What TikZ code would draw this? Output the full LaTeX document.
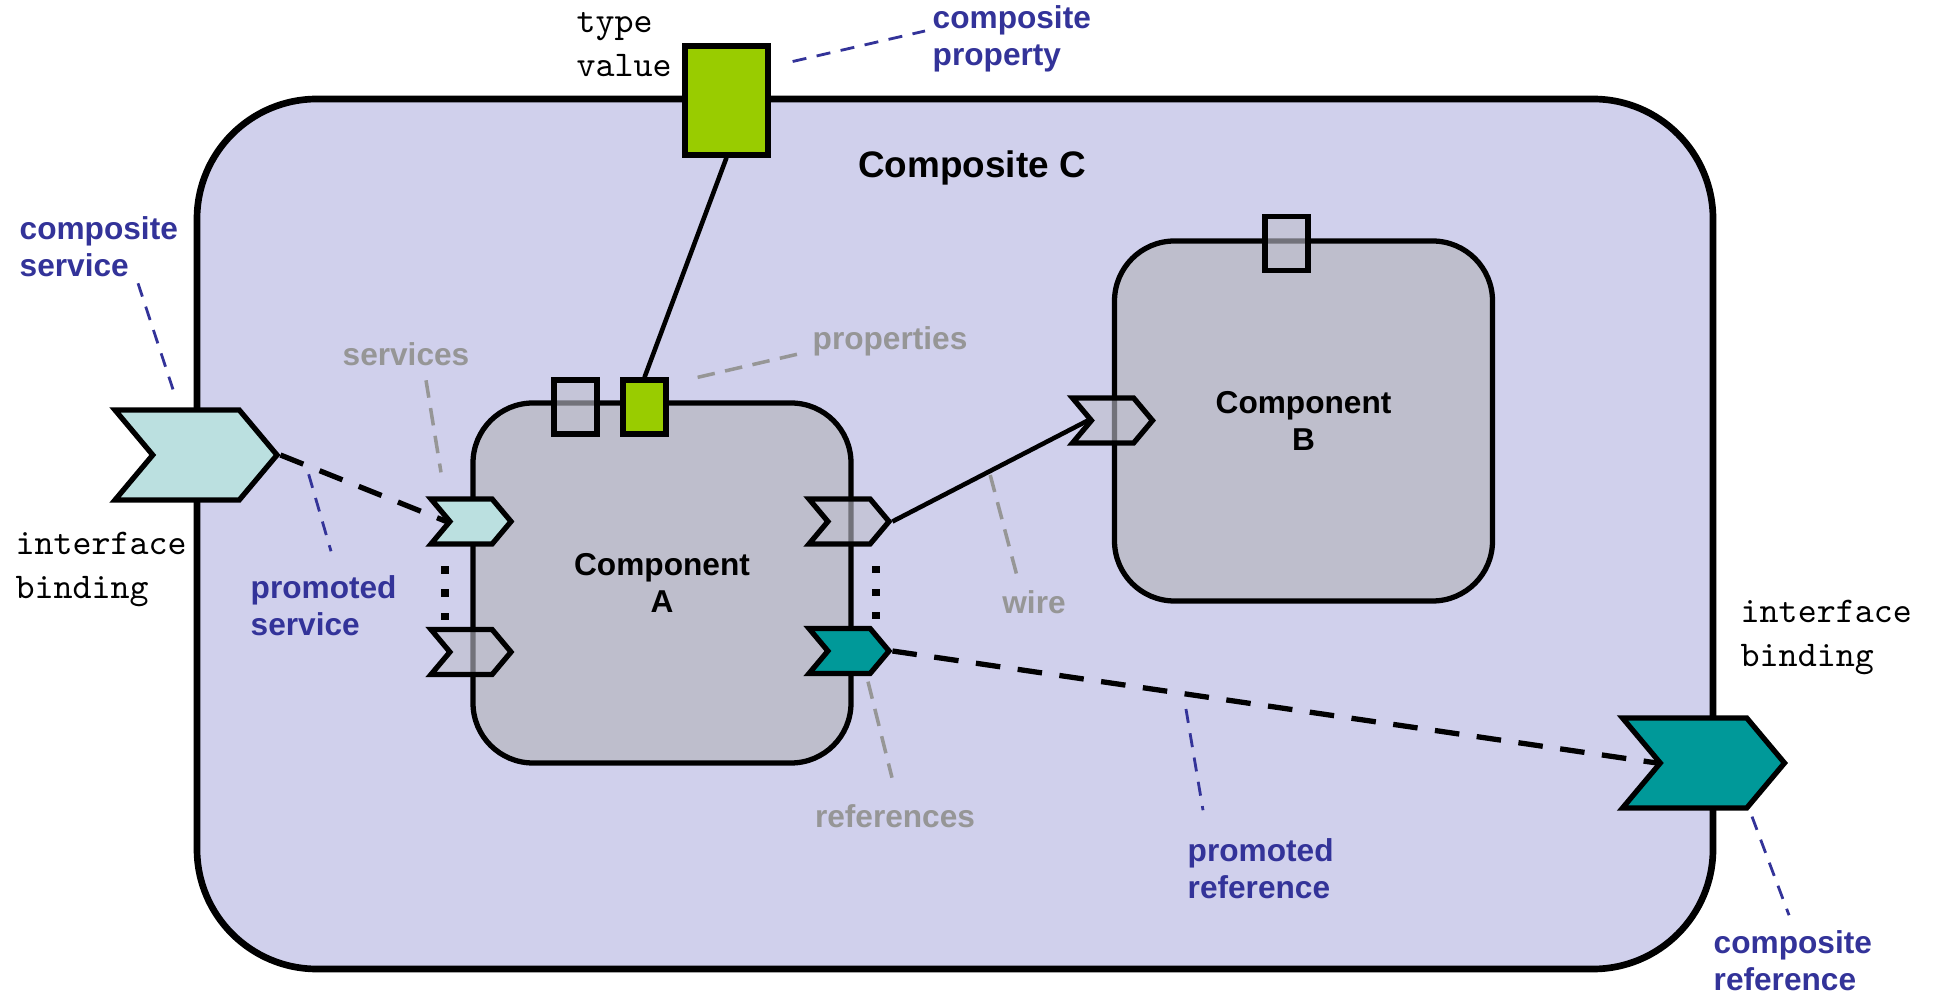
\documentclass[tikz,border=0pt]{standalone}
\usepackage{fontspec}
\setmainfont{Liberation Sans}
\usepackage{tikz}
\usetikzlibrary{positioning, calc, shapes.symbols}
\definecolor{compositeFill}{RGB}{208, 208, 236}
\definecolor{componentFill}{RGB}{190, 190, 204}
\definecolor{serviceFill}{RGB}{187, 224, 224}
\definecolor{refFill}{RGB}{0, 153, 153}
\definecolor{propFill}{RGB}{153, 204, 0}
\definecolor{labelBlue}{RGB}{51, 51, 153}
\definecolor{labelGrey}{RGB}{150, 150, 150}

\tikzset{
    composite/.style={draw, line width=1.9pt, fill=compositeFill, rounded corners=1.2cm,
        minimum width=15.16cm, minimum height=8.7cm},
    component/.style={draw, line width=1.5pt, fill=componentFill, rounded corners=0.6cm,
        minimum width=3.78cm, minimum height=3.6cm, align=center,
        font=\bfseries\fontsize{9}{10.5}\selectfont},
    chevron/.style={signal, signal to=east, signal from=west, signal pointer angle=100,
        draw, line width=1.5pt, inner sep=0pt, minimum width=0.8cm, minimum height=0.45cm},
    bigchevron/.style={chevron, minimum width=1.62cm, minimum height=0.9cm},
    propbox/.style={draw, line width=1.5pt, inner sep=0pt, minimum width=0.43cm, minimum height=0.54cm},
    promote/.style={line width=1.5pt, dash pattern=on 7pt off 5pt},
    wire/.style={line width=1.3pt},
    blueLbl/.style={text=labelBlue, align=left, inner sep=0pt, font=\bfseries\fontsize{9}{10.5}\selectfont},
    greyLbl/.style={text=labelGrey, inner sep=0pt, font=\bfseries\fontsize{9}{10.5}\selectfont},
    monoLbl/.style={align=left, inner sep=0pt, font=\ttfamily\fontsize{10.3}{12.7}\selectfont},
    blueLead/.style={labelBlue, line width=0.8pt, dash pattern=on 4pt off 3pt},
    greyLead/.style={labelGrey, line width=1pt, dash pattern=on 5pt off 3pt}
}

\begin{document}
\begin{tikzpicture}
    \useasboundingbox (0,0) rectangle (19.35,9.96);

    \node[composite] (compC) at (9.55,4.62) {};
    \node[font=\bfseries\fontsize{10.5}{12}\selectfont] (lblC) at (9.72,8.28) {Composite C};

    \node[component] (compA) at (6.62,4.13) {Component\\A};
    \node[component] (compB) at (13.035,5.75) {Component\\B};

    \foreach \nm/\x/\y/\col/\op in {
        svcA1/4.71/4.745/serviceFill/1,
        svcA2/4.71/3.44/componentFill/0.6,
        refA1/8.49/4.745/componentFill/0.6,
        refA2/8.49/3.45/refFill/1,
        svcB/11.125/5.755/componentFill/0.6}
    {
        \node[chevron, fill=\col, fill opacity=\op] (\nm) at (\x,\y) {};
    }
    \node[bigchevron, fill=serviceFill] (svcC) at (1.96,5.41) {};
    \node[bigchevron, fill=refFill] (refC) at (17.035,2.33) {};

    \node[propbox, fill=componentFill, fill opacity=0.6] (propA1) at (5.755,5.89) {};
    \node[propbox, fill=propFill] (propA2) at (6.445,5.89) {};
    \node[propbox, fill=componentFill, fill opacity=0.6] (propB) at (12.865,7.525) {};
    \node[propbox, fill=propFill, minimum width=0.83cm, minimum height=1.09cm] (propC) at (7.265,8.955) {};

    \draw[wire] (propC.south) -- (propA2.north);
    \draw[wire] (refA1.east) -- coordinate[pos=0.5] (wirePt) (svcB.west);
    \draw[promote] (svcC.east) -- coordinate[pos=0.17] (psvPt) (svcA1.west);
    \draw[promote] (refA2.east) -- coordinate[pos=0.384] (prfPt) (refC.west);

    \foreach \a/\b/\dx in {svcA1/svcA2/-0.26, refA1/refA2/0.27}
        \foreach \t in {0.29, 0.58, 0.87}
            \fill ($(\a.south)!\t!(\b.north)+(\dx,0)$) +(-1.1pt,-1.1pt) rectangle +(1.1pt,1.1pt);

    \node[monoLbl, anchor=west] (lblTV) at (5.76,9.515) {type\\value};
    \node[blueLbl, anchor=west] (lblCP) at (9.32,9.57) {composite\\property};
    \node[blueLbl, anchor=west] (lblCS) at (0.19,7.495) {composite\\service};
    \node[monoLbl, anchor=west] (lblIB1) at (0.15,4.265) {interface\\binding};
    \node[blueLbl, anchor=west] (lblPS) at (2.50,3.905) {promoted\\service};
    \node[greyLbl] (lblSv) at (4.06,6.42) {services};
    \node[greyLbl] (lblPr) at (8.90,6.55) {properties};
    \node[greyLbl] (lblWi) at (10.34,3.94) {wire};
    \node[greyLbl] (lblRf) at (8.95,1.80) {references};
    \node[blueLbl, anchor=west] (lblPR) at (11.87,1.275) {promoted\\reference};
    \node[monoLbl, anchor=west] (lblIB2) at (17.40,3.585) {interface\\binding};
    \node[blueLbl, anchor=west] (lblCR) at (17.13,0.35) {composite\\reference};

    \draw[blueLead] ([shift={(0.22,0.39)}]propC.east) -- ([shift={(-0.07,0.08)}]lblCP.west);
    \draw[blueLead] ([shift={(1.19,-0.06)}]lblCS.south west) -- ([shift={(-0.23,0.18)}]svcC.north);
    \draw[blueLead] ([yshift=-0.08cm]psvPt) -- ([shift={(0.81,0.235)}]lblPS.north west);
    \draw[blueLead] ([yshift=-0.15cm]prfPt) -- ([shift={(0.16,0.275)}]lblPR.north west);
    \draw[blueLead] ([shift={(0.485,-0.06)}]refC.south) -- ([shift={(0.76,0.15)}]lblCR.north west);
    \draw[greyLead] ([shift={(0.2,-0.14)}]lblSv.south) -- ([shift={(-0.30,0.24)}]svcA1.north);
    \draw[greyLead] ([xshift=0.29cm]propA2.north east) -- ([shift={(-0.05,-0.11)}]lblPr.west);
    \draw[greyLead] ([yshift=-0.04cm]wirePt) -- ([shift={(-0.16,0.10)}]lblWi.north);
    \draw[greyLead] ([shift={(0.19,-0.055)}]refA2.south) -- ([shift={(-0.03,0.26)}]lblRf.north);
\end{tikzpicture}
\end{document}
